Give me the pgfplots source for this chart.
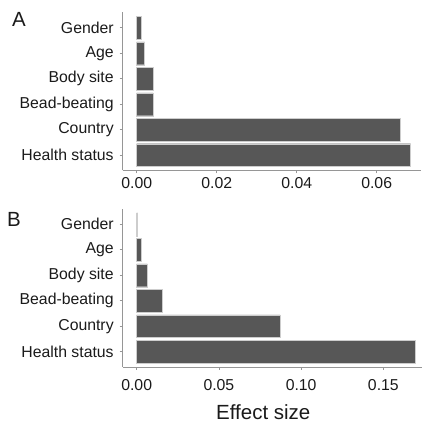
\documentclass[border=0pt]{standalone}
\usepackage{fontspec}
\setmainfont{Liberation Sans}
\usepackage{pgfplots}
\pgfplotsset{compat=1.18}
\definecolor{barfill}{RGB}{87,87,87}
\definecolor{axgray}{RGB}{150,150,150}
\definecolor{bargray}{RGB}{205,205,205}
\definecolor{txt}{RGB}{26,26,26}
\pgfplotsset{effstyle/.style={
  scale only axis, width=298.8pt, height=158pt,
  axis x line=bottom, axis y line=left,
  axis line style={-, draw=axgray, line width=0.8pt},
  ymin=-0.6, ymax=5.6, ytick={0,...,5},
  yticklabels={Health status,Country,Bead-beating,Body site,Age,Gender},
  scaled x ticks=false,
  tick align=outside, major tick length=3pt,
  tick style={draw=axgray, line width=0.6pt},
  tick label style={font=\fontsize{15.8}{19}\selectfont, text=txt},
  yticklabel style={xshift=-2.5pt},
  anchor=south west,
}}
\begin{document}
\begin{tikzpicture}
\useasboundingbox (0,0) rectangle (422pt,423pt);
\begin{axis}[effstyle, at={(122.7pt,252.5pt)},
  xmin=-0.0035, xmax=0.0712,
  xtick={0,0.02,0.04,0.06}, xticklabels={0.00,0.02,0.04,0.06}]
\addplot[xbar, bar width=0.9, fill=barfill, draw=bargray, line width=0.4pt]
  coordinates {(0.0685,0) (0.0658,1) (0.0041,2) (0.0041,3) (0.0020,4) (0.00125,5)};
\end{axis}
\begin{axis}[effstyle, at={(122.7pt,56pt)},
  xmin=-0.0085, xmax=0.1732,
  xtick={0,0.05,0.1,0.15}, xticklabels={0.00,0.05,0.10,0.15},
  xticklabel style={yshift=-6pt},
  xlabel={Effect size},
  xlabel style={at={(axis description cs:0.4705,0)}, anchor=base, yshift=-52pt,
    font=\fontsize{20.5}{24}\selectfont, text=txt}]
\addplot[xbar, bar width=0.9, fill=barfill, draw=bargray, line width=0.4pt]
  coordinates {(0.1693,0) (0.0872,1) (0.0156,2) (0.0065,3) (0.0030,4) (0.0005,5)};
\end{axis}
\node[anchor=base west, inner sep=0pt, text=txt, font=\fontsize{20.5}{24}\selectfont] at (12pt,396pt) {A};
\node[anchor=base west, inner sep=0pt, text=txt, font=\fontsize{20.5}{24}\selectfont] at (7pt,196.3pt) {B};
\end{tikzpicture}
\end{document}
